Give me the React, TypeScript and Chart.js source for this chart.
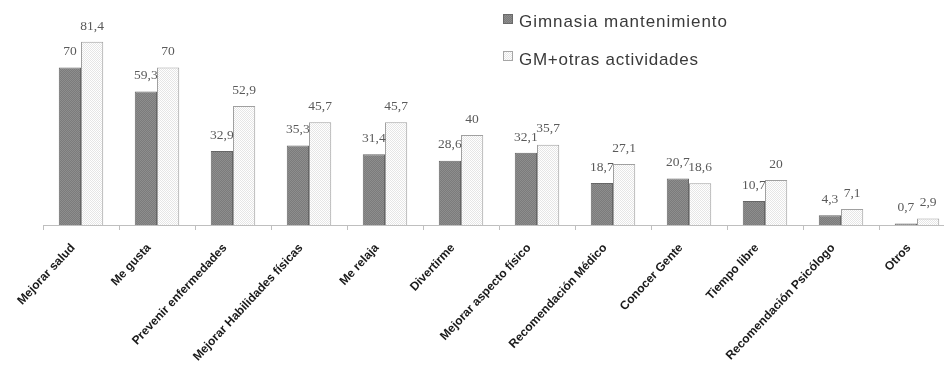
import React, { useEffect, useRef } from "react";
import { Chart, registerables } from "chart.js";

Chart.register(...registerables);

const categories = [
  "Mejorar salud",
  "Me gusta",
  "Prevenir enfermedades",
  "Mejorar Habilidades físicas",
  "Me relaja",
  "Divertirme",
  "Mejorar aspecto físico",
  "Recomendación Médico",
  "Conocer Gente",
  "Tiempo libre",
  "Recomendación Psicólogo",
  "Otros",
];
const gimnasiaMantenimiento = [70, 59.3, 32.9, 35.3, 31.4, 28.6, 32.1, 18.7, 20.7, 10.7, 4.3, 0.7];
const gmOtrasActividades = [81.4, 70, 52.9, 45.7, 45.7, 40, 35.7, 27.1, 18.6, 20, 7.1, 2.9];
const seriesNames = ["Gimnasia mantenimiento", "GM+otras actividades"];

function makePattern(a: string, b: string): CanvasPattern | string {
  const c = document.createElement("canvas");
  c.width = 2;
  c.height = 2;
  const g = c.getContext("2d");
  if (!g) return a;
  g.fillStyle = a;
  g.fillRect(0, 0, 2, 2);
  g.fillStyle = b;
  g.fillRect(0, 0, 1, 1);
  g.fillRect(1, 1, 1, 1);
  const p = g.createPattern(c, "repeat");
  return p || a;
}

export default function App() {
  const ref = useRef<HTMLCanvasElement | null>(null);

  useEffect(() => {
    if (!ref.current) return;
    const darkFill = makePattern("#7b7b7b", "#8e8e8e");
    const lightFill = makePattern("#ffffff", "#e6e6e6");

    const dataLabels = {
      id: "dataLabels",
      afterDatasetsDraw(chart: any) {
        const ctx = chart.ctx;
        ctx.save();
        ctx.font = "13.5px 'Liberation Serif'";
        ctx.fillStyle = "#5a5a5a";
        ctx.textAlign = "center";
        ctx.textBaseline = "bottom";
        chart.data.datasets.forEach((ds: any, i: number) => {
          const meta = chart.getDatasetMeta(i);
          meta.data.forEach((el: any, j: number) => {
            const v = ds.data[j];
            ctx.fillText(String(v).replace(".", ","), el.x, el.y - 9);
          });
        });
        ctx.restore();
      },
    };

    const legendPlugin = {
      id: "customLegend",
      afterDraw(chart: any) {
        const ctx = chart.ctx;
        ctx.save();
        const items = [
          { text: seriesNames[0], fill: darkFill, stroke: "#6a6a6a", sy: 19, ty: 27, w: 208 },
          { text: seriesNames[1], fill: lightFill, stroke: "#a6a6a6", sy: 56, ty: 65, w: 179 },
        ];
        items.forEach((it) => {
          ctx.fillStyle = it.fill;
          ctx.fillRect(503, it.sy - 5, 10, 10);
          ctx.strokeStyle = it.stroke;
          ctx.lineWidth = 1;
          ctx.strokeRect(503.5, it.sy - 4.5, 9, 9);
          ctx.font = "17px 'Liberation Sans'";
          ctx.fillStyle = "#3a3a3a";
          ctx.textBaseline = "alphabetic";
          ctx.textAlign = "left";
          (ctx as any).letterSpacing = "0px";
          const m = ctx.measureText(it.text).width;
          const ls = Math.max(0, (it.w - m) / (it.text.length - 1));
          (ctx as any).letterSpacing = ls + "px";
          ctx.fillText(it.text, 519, it.ty);
          (ctx as any).letterSpacing = "0px";
        });
        ctx.restore();
      },
    };

    const chart = new Chart(ref.current, {
      type: "bar",
      data: {
        labels: categories,
        datasets: [
          {
            label: seriesNames[0],
            data: gimnasiaMantenimiento,
            backgroundColor: darkFill as any,
            borderColor: "#666666",
            borderWidth: 1,
            categoryPercentage: 0.585,
            barPercentage: 1,
          },
          {
            label: seriesNames[1],
            data: gmOtrasActividades,
            backgroundColor: lightFill as any,
            borderColor: "#a0a0a0",
            borderWidth: 1,
            categoryPercentage: 0.585,
            barPercentage: 1,
          },
        ],
      },
      options: {
        responsive: false,
        animation: false,
        devicePixelRatio: 1,
        layout: { padding: { left: 43, right: 5, top: 0, bottom: 0 } },
        plugins: {
          legend: { display: false },
          tooltip: { enabled: false },
        },
        scales: {
          y: { display: false, min: 0, max: 100 },
          x: {
            afterFit(scale: any) {
              scale.height = 152;
            },
            grid: {
              display: true,
              drawOnChartArea: false,
              drawTicks: true,
              tickLength: 5,
              color: "#bfbfbf",
              offset: true,
            },
            border: { display: true, color: "#bfbfbf" },
            ticks: {
              autoSkip: false,
              minRotation: 47,
              maxRotation: 47,
              padding: 11,
              labelOffset: -8,
              color: "#1a1a1a",
              font: { family: "'Liberation Sans'", size: 12, weight: "bold" },
            },
          },
        },
      },
      plugins: [dataLabels, legendPlugin],
    });
    return () => chart.destroy();
  }, []);

  return (
    <div
      style={{
        position: "fixed",
        left: 0,
        top: 0,
        width: 944,
        height: 377,
        overflow: "hidden",
        background: "#ffffff",
      }}
    >
      <canvas ref={ref} width={960} height={377} style={{ display: "block" }} />
    </div>
  );
}
